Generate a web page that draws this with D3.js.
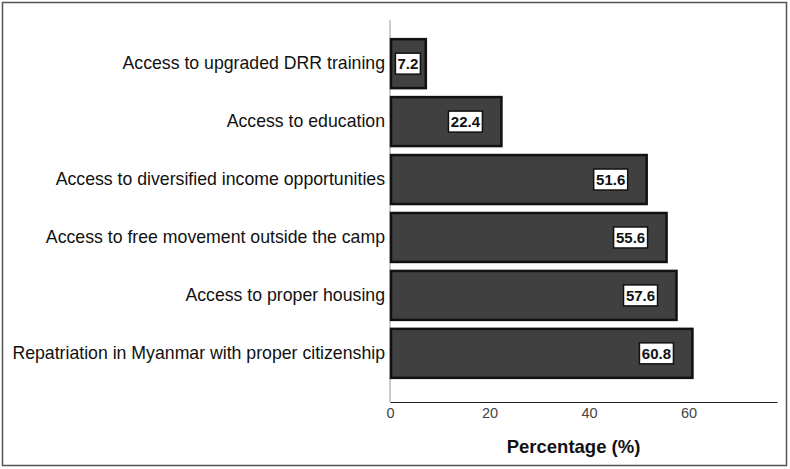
<!DOCTYPE html>
<html>
<head>
<meta charset="utf-8">
<script src="https://cdn.jsdelivr.net/npm/d3@7"></script>
<style>
  body { margin: 0; background: #fff; }
  text { font-family: "Liberation Sans", Arial, sans-serif; }
</style>
</head>
<body>
<div id="chart"></div>
<script>
// chart data
const categories = [
  "Access to upgraded DRR training",
  "Access to education",
  "Access to diversified income opportunities",
  "Access to free movement outside the camp",
  "Access to proper housing",
  "Repatriation in Myanmar with proper citizenship"
];
const values = [7.2, 22.4, 51.6, 55.6, 57.6, 60.8];
const xTicks = [0, 20, 40, 60];

const svgWidth = 790;
const svgHeight = 469;

const margin = { top: 20, right: 13, bottom: 67, left: 390 };
const width = svgWidth - margin.left - margin.right;
const height = svgHeight - margin.top - margin.bottom;

const svg = d3.select("#chart")
  .append("svg")
  .attr("width", svgWidth)
  .attr("height", svgHeight);

// outer frame
svg.append("rect")
  .attr("x", 2.5)
  .attr("y", 2.5)
  .attr("width", 784)
  .attr("height", 463)
  .attr("fill", "none")
  .attr("stroke", "#555")
  .attr("stroke-width", 1.5);

const chartGroup = svg.append("g")
  .attr("transform", `translate(${margin.left}, ${margin.top})`);

const xScale = d3.scaleLinear()
  .domain([0, 77.8])
  .range([0, width]);

const yScale = d3.scaleBand()
  .domain(categories)
  .range([17, height - 22])
  .paddingInner(0.12)
  .paddingOuter(0.02);

// axes
const bottomAxis = d3.axisBottom(xScale)
  .tickValues(xTicks)
  .tickSize(0)
  .tickPadding(6);

const xAxis = chartGroup.append("g")
  .attr("transform", `translate(0, ${height})`)
  .call(bottomAxis);
xAxis.select(".domain").attr("stroke", "#222");
xAxis.selectAll("text")
  .attr("font-size", 14.5)
  .attr("fill", "#444");

chartGroup.append("line")
  .attr("x1", 0).attr("x2", 0)
  .attr("y1", 0).attr("y2", height)
  .attr("stroke", "#999")
  .attr("stroke-width", 1);

const leftAxis = d3.axisLeft(yScale).tickSize(0).tickPadding(5);
const yAxis = chartGroup.append("g").call(leftAxis);
yAxis.select(".domain").remove();
yAxis.selectAll("text")
  .attr("font-size", 17.7)
  .attr("fill", "#111");

// bars
chartGroup.selectAll(".bar")
  .data(values)
  .enter()
  .append("rect")
  .attr("class", "bar")
  .attr("x", 1)
  .attr("y", (d, i) => yScale(categories[i]) + 1)
  .attr("width", d => xScale(d) - 1)
  .attr("height", yScale.bandwidth() - 2)
  .attr("fill", "#404040")
  .attr("stroke", "#111")
  .attr("stroke-width", 2.5);

// value labels
const labels = chartGroup.selectAll(".lbl")
  .data(values)
  .enter()
  .append("g")
  .attr("class", "lbl")
  .attr("transform", (d, i) => {
    const end = xScale(d);
    const cx = Math.max(end / 2, end - 36);
    return `translate(${cx}, ${yScale(categories[i]) + yScale.bandwidth() / 2})`;
  });

labels.append("rect")
  .attr("x", d => d < 10 ? -12.5 : -17)
  .attr("y", -10.5)
  .attr("width", d => d < 10 ? 25 : 34)
  .attr("height", 21)
  .attr("fill", "#fff")
  .attr("stroke", "#111")
  .attr("stroke-width", 1.5);

labels.append("text")
  .attr("text-anchor", "middle")
  .attr("dy", "0.36em")
  .attr("font-size", 15)
  .attr("font-weight", "bold")
  .attr("fill", "#111")
  .text(d => d.toFixed(1));

// x axis title
chartGroup.append("text")
  .attr("x", width / 2 - 10)
  .attr("y", height + 51)
  .attr("text-anchor", "middle")
  .attr("font-size", 18.5)
  .attr("font-weight", "bold")
  .attr("fill", "#111")
  .text("Percentage (%)");
</script>
</body>
</html>
